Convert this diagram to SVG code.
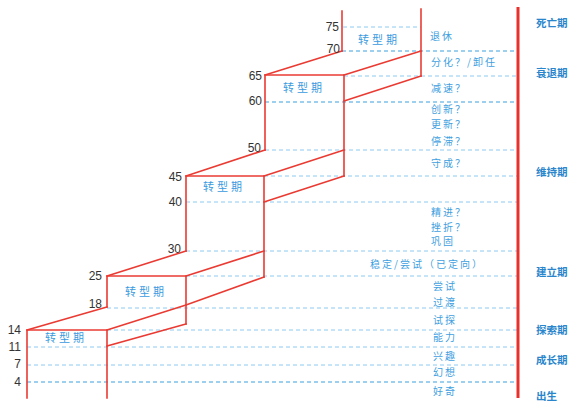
<svg xmlns="http://www.w3.org/2000/svg" width="569" height="405" viewBox="0 0 569 405">
<style>
.red{stroke:#ea3b33;stroke-width:1.6;fill:none;stroke-linecap:square}
.axis{stroke:#e8312c;stroke-width:3;fill:none}
.dl{stroke:#8ccaf0;stroke-width:1;stroke-dasharray:4 3;fill:none}
.dd{stroke:#3c9fe0;stroke-width:1.2;stroke-dasharray:4 3;fill:none}
.num{font-family:"Liberation Sans",Arial,sans-serif;font-size:12px;fill:#333;text-anchor:end}
.tp{font-family:"Noto Sans CJK SC",sans-serif;font-size:11px;fill:#3b9be0;letter-spacing:3px}
.mid{font-family:"Noto Sans CJK SC",sans-serif;font-size:10px;fill:#3f9fe0;letter-spacing:2px}
.stg{font-family:"Noto Sans CJK SC",sans-serif;font-size:10.5px;font-weight:bold;fill:#2a86cc}
</style>
<rect width="569" height="405" fill="#ffffff"/>
<g id="grid">
<line class="dl" x1="343" y1="27" x2="421" y2="27"/>
<line class="dd" x1="342" y1="51" x2="517" y2="51"/>
<line class="dl" x1="344" y1="76" x2="517" y2="76"/>
<line class="dd" x1="265" y1="102" x2="517" y2="102"/>
<line class="dl" x1="265" y1="150" x2="517" y2="150"/>
<line class="dl" x1="264" y1="176" x2="517" y2="176"/>
<line class="dl" x1="186" y1="202" x2="517" y2="202"/>
<line class="dl" x1="186" y1="251" x2="517" y2="251"/>
<line class="dl" x1="186" y1="276" x2="517" y2="276"/>
<line class="dl" x1="107" y1="308" x2="517" y2="308"/>
<line class="dl" x1="107" y1="330" x2="517" y2="330"/>
<line class="dl" x1="27" y1="347" x2="517" y2="347"/>
<line class="dl" x1="27" y1="365" x2="517" y2="365"/>
<line class="dd" x1="27" y1="382" x2="517" y2="382"/>
</g>
<g id="connectors">
<line class="axis" x1="518" y1="7" x2="518" y2="398"/>
</g>
<g id="step1">
<polyline class="red" points="27,398 27,330 107,330 107,398"/>
<line class="red" x1="27" y1="330" x2="107" y2="307"/>
<line class="red" x1="107" y1="330" x2="186" y2="305"/>
<line class="red" x1="107" y1="346" x2="186" y2="324"/>
<text class="tp" x="45" y="342">转型期</text>
</g>
<g id="step2">
<polyline class="red" points="107,307 107,276 186,276 186,324"/>
<line class="red" x1="107" y1="276" x2="186" y2="251"/>
<line class="red" x1="186" y1="276" x2="264" y2="251"/>
<line class="red" x1="186" y1="305" x2="264" y2="277"/>
<text class="tp" x="125" y="296">转型期</text>
</g>
<g id="step3">
<polyline class="red" points="186,251 186,176 264,176 264,277"/>
<line class="red" x1="186" y1="176" x2="265" y2="150"/>
<line class="red" x1="264" y1="176" x2="344" y2="150"/>
<line class="red" x1="264" y1="202" x2="344" y2="176"/>
<text class="tp" x="203" y="191">转型期</text>
</g>
<g id="step4">
<polyline class="red" points="265,150 265,75 344,75 344,176"/>
<line class="red" x1="265" y1="75" x2="342" y2="51"/>
<line class="red" x1="344" y1="75" x2="421" y2="51"/>
<line class="red" x1="344" y1="101" x2="421" y2="76"/>
<text class="tp" x="283" y="92">转型期</text>
</g>
<g id="step5">
<line class="red" x1="342" y1="51" x2="342" y2="11"/>
<line class="red" x1="421" y1="9" x2="421" y2="76"/>
<text class="tp" x="358" y="44">转型期</text>
</g>
<g id="ages">
<text class="num" x="339" y="31">75</text>
<text class="num" x="340" y="53">70</text>
<text class="num" x="262" y="80">65</text>
<text class="num" x="262" y="105">60</text>
<text class="num" x="261" y="152">50</text>
<text class="num" x="182" y="181">45</text>
<text class="num" x="182" y="206">40</text>
<text class="num" x="181" y="253">30</text>
<text class="num" x="102" y="280">25</text>
<text class="num" x="102" y="308">18</text>
<text class="num" x="21" y="334">14</text>
<text class="num" x="21" y="351">11</text>
<text class="num" x="21" y="368">7</text>
<text class="num" x="21" y="386">4</text>
</g>
<g id="states">
<text class="mid" x="430" y="40">退休</text>
<text class="mid" x="431" y="66">分化？/卸任</text>
<text class="mid" x="431" y="92">减速？</text>
<text class="mid" x="431" y="113">创新？</text>
<text class="mid" x="431" y="128">更新？</text>
<text class="mid" x="431" y="145">停滞？</text>
<text class="mid" x="431" y="167">守成？</text>
<text class="mid" x="431" y="216">精进？</text>
<text class="mid" x="431" y="231">挫折？</text>
<text class="mid" x="431" y="245">巩固</text>
<text class="mid" x="370" y="268">稳定/尝试（已定向）</text>
<text class="mid" x="433" y="290">尝试</text>
<text class="mid" x="433" y="306">过渡</text>
<text class="mid" x="433" y="324">试探</text>
<text class="mid" x="433" y="341">能力</text>
<text class="mid" x="433" y="360">兴趣</text>
<text class="mid" x="433" y="376">幻想</text>
<text class="mid" x="433" y="395">好奇</text>
</g>
<g id="stages">
<text class="stg" x="536" y="27">死亡期</text>
<text class="stg" x="536" y="77">衰退期</text>
<text class="stg" x="536" y="176">维持期</text>
<text class="stg" x="536" y="276">建立期</text>
<text class="stg" x="536" y="334">探索期</text>
<text class="stg" x="536" y="364">成长期</text>
<text class="stg" x="536" y="400">出生</text>
</g>
</svg>
